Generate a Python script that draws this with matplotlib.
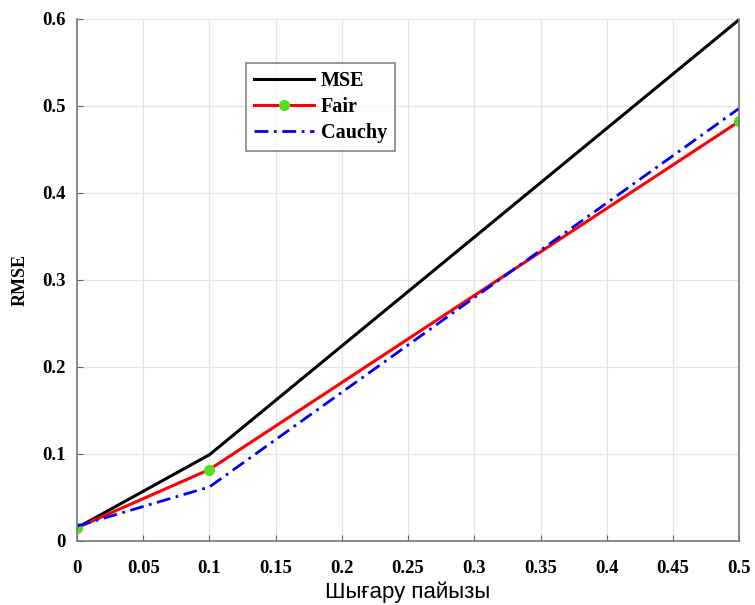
import matplotlib
matplotlib.use("Agg")
import matplotlib.pyplot as plt

x = [0.0, 0.1, 0.5]
mse = [0.015, 0.099, 0.599]
fair = [0.015, 0.082, 0.482]
cauchy = [0.017, 0.062, 0.497]
xticks = [0, 0.05, 0.1, 0.15, 0.2, 0.25, 0.3, 0.35, 0.4, 0.45, 0.5]
yticks = [0, 0.1, 0.2, 0.3, 0.4, 0.5, 0.6]

fig = plt.figure(figsize=(7.55, 6.05), dpi=100)
ax = fig.add_axes([0.102, 0.106, 0.877, 0.863])

ax.plot(x, mse, color="black", lw=2.2, label="MSE")
ax.plot(x, fair, color="red", lw=2.2, marker="o", markersize=7,
        markerfacecolor="#55dd22", markeredgecolor="#55dd22", label="Fair")
ax.plot(x, cauchy, color="blue", lw=2.0, linestyle=(0, (5, 2, 1, 2)), label="Cauchy")

ax.set_xlim(0, 0.5)
ax.set_ylim(0, 0.6)
ax.set_xticks(xticks)
ax.set_yticks(yticks)
ax.set_xticklabels([f"{t:g}" for t in xticks])
ax.set_yticklabels([f"{t:g}" for t in yticks])
ax.grid(True, color="#e3e3e3", lw=0.9)
ax.set_axisbelow(True)

for lab in ax.get_xticklabels() + ax.get_yticklabels():
    lab.set_fontfamily("Liberation Serif")
    lab.set_fontweight("bold")
    lab.set_fontsize(13.5)
ax.tick_params(direction="in", length=4, color="#666666")
ax.tick_params(axis="x", pad=14)
ax.tick_params(axis="y", pad=8)

ax.spines["top"].set_visible(False)
for side in ["left", "bottom", "right"]:
    ax.spines[side].set_color("#777777")
    ax.spines[side].set_linewidth(1.2)

ax.set_xlabel("Шығару пайызы", family="Liberation Sans", size=16, labelpad=3)
ax.set_ylabel("RMSE", family="Liberation Serif", weight="bold", size=13, labelpad=10)

leg = ax.legend(loc="upper left", bbox_to_anchor=(0.24, 0.935), frameon=True,
                fancybox=False, edgecolor="#666666", handlelength=3.0,
                prop=dict(family="Liberation Serif", weight="bold", size=14.5),
                borderpad=0.4, labelspacing=0.3, handletextpad=0.3)
leg.get_frame().set_linewidth(1.2)

fig.savefig("out.png", dpi=100)
